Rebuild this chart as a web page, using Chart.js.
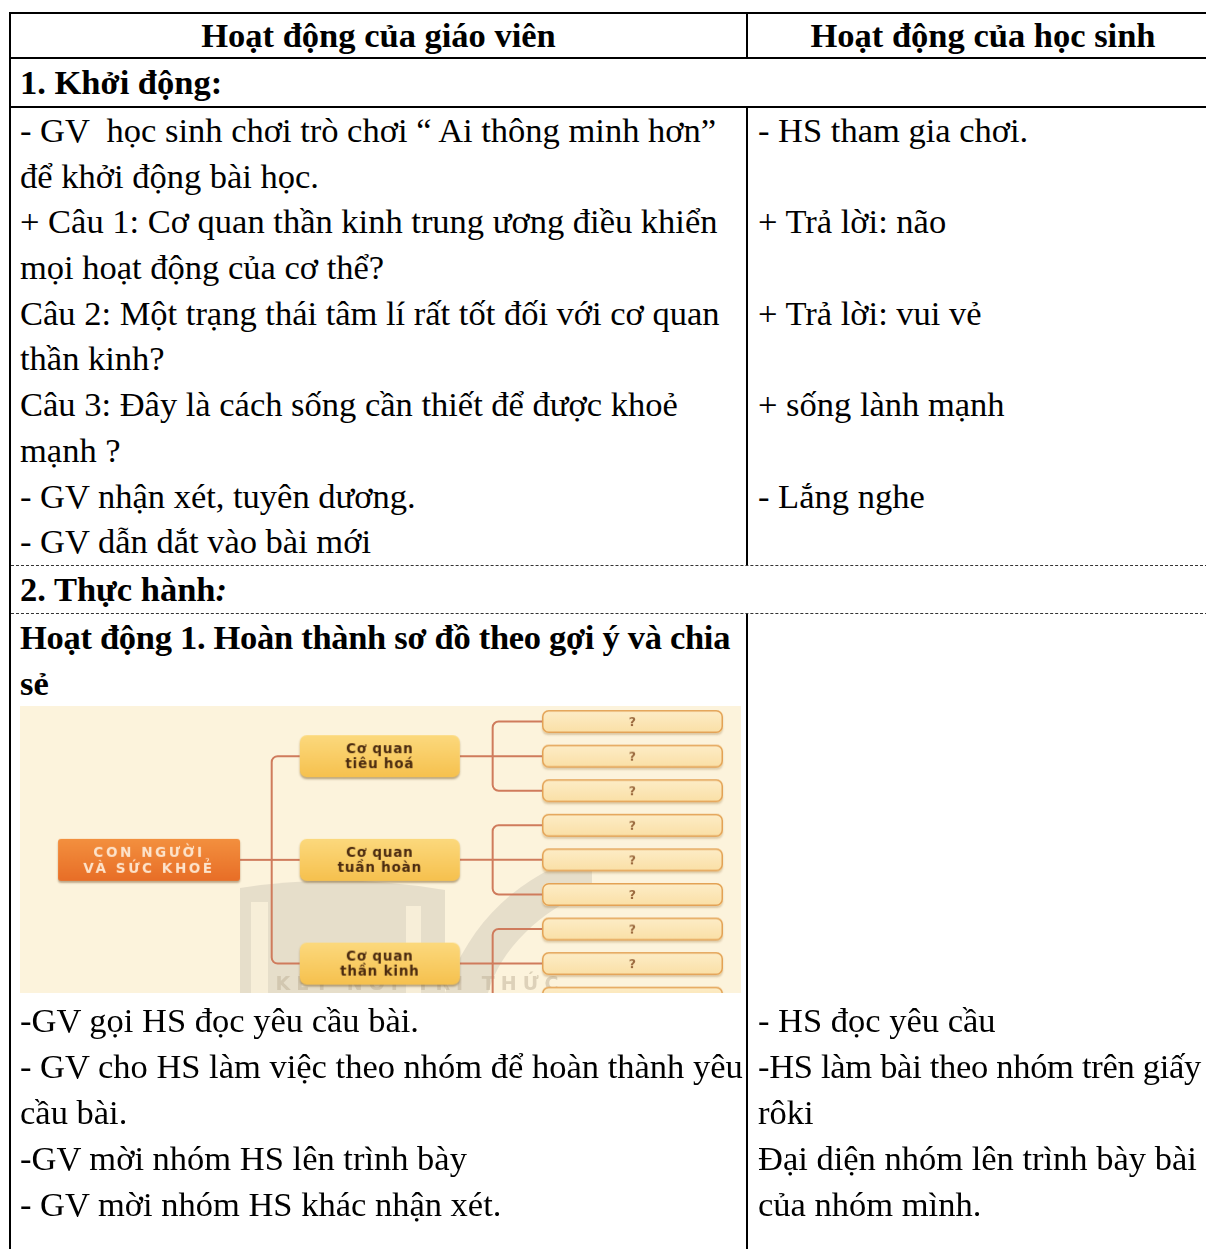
<!DOCTYPE html>
<html lang="vi">
<head>
<meta charset="utf-8">
<title>Hoạt động dạy học</title>
<script src="https://cdn.jsdelivr.net/npm/chart.js@4.4.1/dist/chart.umd.min.js"></script>
<style>
html, body { margin: 0; padding: 0; background: #fff; }
body {
    width: 1206px; height: 1249px; overflow: hidden; position: relative;
    font-family: "Liberation Serif", "Times New Roman", serif;
    font-size: 34.5px; color: #000;
}
.tbl {
    position: absolute; left: 9px; top: 12px; width: 1207px;
    border-left: 2px solid #000; border-top: 2px solid #000;
}
.row { display: flex; box-sizing: border-box; }
.c1 { box-sizing: border-box; width: 737px; border-right: 2px solid #000; padding-left: 9px; }
.c2 { box-sizing: border-box; flex: 1; padding-left: 10px; }
.full { box-sizing: border-box; width: 100%; padding-left: 9px; }
.ln { white-space: pre; }
.b { font-weight: bold; }
.tight { letter-spacing: -0.3px; }

.head { height: 45px; border-bottom: 2px solid #000; font-weight: bold; line-height: 43px; }
.head .c1, .head .c2 { text-align: center; padding-left: 0; }
.sec1 { height: 49px; border-bottom: 2px solid #000; line-height: 47px; font-weight: bold; }
.body1 { height: 458px; border-bottom: 1px dashed #333; line-height: 45.7px; }
.body1 .ln { height: 45.7px; }
.sec2 { height: 48px; border-bottom: 1px dashed #333; line-height: 47px; font-weight: bold; }
.body2 { height: 700px; line-height: 46px; }
.body2 .ln { height: 46px; }
#sodo { display: block; margin-bottom: 4px; }
.spacer { height: 383px; }
</style>
</head>
<body>
<div class="tbl">
    <div class="row head">
        <div class="c1">Hoạt động của giáo viên</div>
        <div class="c2">Hoạt động của học sinh</div>
    </div>
    <div class="row sec1">
        <div class="full">1. Khởi động:</div>
    </div>
    <div class="row body1">
        <div class="c1">
            <div class="ln">- GV  học sinh chơi trò chơi “ Ai thông minh hơn”</div>
            <div class="ln">để khởi động bài học.</div>
            <div class="ln">+ Câu 1: Cơ quan thần kinh trung ương điều khiển</div>
            <div class="ln">mọi hoạt động của cơ thể?</div>
            <div class="ln">Câu 2: Một trạng thái tâm lí rất tốt đối với cơ quan</div>
            <div class="ln">thần kinh?</div>
            <div class="ln">Câu 3: Đây là cách sống cần thiết để được khoẻ</div>
            <div class="ln">mạnh ?</div>
            <div class="ln">- GV nhận xét, tuyên dương.</div>
            <div class="ln">- GV dẫn dắt vào bài mới</div>
        </div>
        <div class="c2">
            <div class="ln">- HS tham gia chơi.</div>
            <div class="ln"></div>
            <div class="ln">+ Trả lời: não</div>
            <div class="ln"></div>
            <div class="ln">+ Trả lời: vui vẻ</div>
            <div class="ln"></div>
            <div class="ln">+ sống lành mạnh</div>
            <div class="ln"></div>
            <div class="ln">- Lắng nghe</div>
            <div class="ln"></div>
        </div>
    </div>
    <div class="row sec2">
        <div class="full">2. Thực hành<i>:</i></div>
    </div>
    <div class="row body2">
        <div class="c1">
            <div class="ln b tight">Hoạt động 1. Hoàn thành sơ đồ theo gợi ý và chia</div>
            <div class="ln b">sẻ</div>
            <canvas id="sodo" width="721" height="287"></canvas>
            <div class="ln">-GV gọi HS đọc yêu cầu bài.</div>
            <div class="ln">- GV cho HS làm việc theo nhóm để hoàn thành yêu</div>
            <div class="ln">cầu bài.</div>
            <div class="ln">-GV mời nhóm HS lên trình bày</div>
            <div class="ln">- GV mời nhóm HS khác nhận xét.</div>
        </div>
        <div class="c2">
            <div class="spacer"></div>
            <div class="ln">- HS đọc yêu cầu</div>
            <div class="ln tight">-HS làm bài theo nhóm trên giấy</div>
            <div class="ln">rôki</div>
            <div class="ln">Đại diện nhóm lên trình bày bài</div>
            <div class="ln">của nhóm mình.</div>
        </div>
    </div>
</div>

<script>
// Sơ đồ: gốc -> cơ quan -> ô trống
const rootLabel = ['CON NGƯỜI', 'VÀ SỨC KHOẺ'];
const organLabels = [['Cơ quan', 'tiêu hoá'], ['Cơ quan', 'tuần hoàn'], ['Cơ quan', 'thần kinh']];
const leafCounts = [3, 3, 3];
const leafLabels = ['?', '?', '?', '?', '?', '?', '?', '?', '?'];

// layout & styles
const COL = [0.179, 0.499, 0.8495];
const BOX = {
    root:  { w: 182, h: 42, r: 3, top: '#f3903f', bottom: '#e86e27', shadow: 'rgba(110,70,30,0.45)',
             color: '#fde4cc', font: 'bold 13.5px "DejaVu Sans"', lh: 16, spacing: '2.6px' },
    organ: { w: 160, h: 42, r: 7, top: '#fcd97d', bottom: '#f6c14e', shadow: 'rgba(120,90,40,0.5)',
             color: '#4a2a10', font: 'bold 13.5px "DejaVu Sans"', lh: 15, spacing: '0.8px' },
    leaf:  { w: 181, h: 23, r: 6, top: '#fdedc8', bottom: '#fadfa5', shadow: 'rgba(150,110,50,0.3)',
             border: '#e3a255', borderWidth: 1.5,
             color: '#9c6b40', font: 'bold 12.5px "DejaVu Sans"', lh: 12, spacing: '0px' }
};
const LINK = { color: '#cf7b5c', width: 2, radius: 6, trunk: 0.53, branch: 0.4 };

function boxPath(g, x, y, w, h, r) {
    g.beginPath();
    g.moveTo(x + r, y);
    g.arcTo(x + w, y, x + w, y + h, r);
    g.arcTo(x + w, y + h, x, y + h, r);
    g.arcTo(x, y + h, x, y, r);
    g.arcTo(x, y, x + w, y, r);
    g.closePath();
}

function makeNode(st, lines) {
    const pad = 5;
    const c = document.createElement('canvas');
    c.width = st.w + pad * 2;
    c.height = st.h + pad * 2;
    const g = c.getContext('2d');
    g.save();
    g.shadowColor = st.shadow;
    g.shadowOffsetY = 2;
    g.shadowBlur = 2;
    boxPath(g, pad, pad, st.w, st.h, st.r);
    const grad = g.createLinearGradient(0, pad, 0, pad + st.h);
    grad.addColorStop(0, st.top);
    grad.addColorStop(1, st.bottom);
    g.fillStyle = grad;
    g.fill();
    g.restore();
    if (st.border) {
        g.lineWidth = st.borderWidth;
        g.strokeStyle = st.border;
        boxPath(g, pad + 0.75, pad + 0.75, st.w - 1.5, st.h - 1.5, st.r);
        g.stroke();
    }
    g.fillStyle = st.color;
    g.font = st.font;
    g.textAlign = 'center';
    g.textBaseline = 'middle';
    if ('letterSpacing' in g) g.letterSpacing = st.spacing;
    const y0 = pad + st.h / 2 - (lines.length - 1) * st.lh / 2;
    lines.forEach((t, i) => g.fillText(t, pad + st.w / 2, y0 + i * st.lh + 1));
    return c;
}

// points from the tree
let first = 0;
const organY = leafCounts.map(n => {
    const y = first + (n - 1) / 2;
    first += n;
    return y;
});
const rootY = organY.reduce((a, b) => a + b, 0) / organY.length;

const rootPts = [{ x: COL[0], y: rootY }];
const organPts = organY.map(y => ({ x: COL[1], y: y }));
const leafPts = leafLabels.map((_, i) => ({ x: COL[2], y: i }));

function elbows(ctx, px, py, kids, frac) {
    const mx = px + (kids[0].x - px) * frac;
    ctx.beginPath();
    ctx.moveTo(px, py);
    ctx.lineTo(mx, py);
    ctx.stroke();
    kids.forEach(k => {
        ctx.beginPath();
        ctx.moveTo(mx, py);
        if (Math.abs(k.y - py) > 1) ctx.arcTo(mx, k.y, k.x, k.y, LINK.radius);
        ctx.lineTo(k.x, k.y);
        ctx.stroke();
    });
}

const backdropPlugin = {
    id: 'backdrop',
    beforeDraw(chart) {
        const { ctx, width, height } = chart;
        ctx.save();
        ctx.fillStyle = '#fcf3dc';
        ctx.fillRect(0, 0, width, height);

        // logo mờ phía sau
        ctx.fillStyle = 'rgba(140,135,125,0.19)';
        ctx.beginPath();
        ctx.moveTo(220, 182);
        ctx.quadraticCurveTo(320, 166, 425, 184);
        ctx.lineTo(425, height);
        ctx.lineTo(220, height);
        ctx.closePath();
        ctx.fill();
        ctx.beginPath();
        ctx.moveTo(425, height);
        ctx.bezierCurveTo(450, 214, 500, 169, 572, 146);
        ctx.lineTo(572, 184);
        ctx.bezierCurveTo(520, 204, 480, 244, 468, height);
        ctx.closePath();
        ctx.fill();
        ctx.fillStyle = 'rgba(252,243,220,0.75)';
        ctx.fillRect(231, 196, 17, height - 196);
        ctx.fillRect(386, 200, 15, height - 200);

        ctx.fillStyle = 'rgba(190,175,150,0.5)';
        ctx.font = 'bold 19px "DejaVu Sans"';
        ctx.textAlign = 'center';
        ctx.textBaseline = 'alphabetic';
        if ('letterSpacing' in ctx) ctx.letterSpacing = '6px';
        ctx.fillText('KẾT NỐI TRI THỨC', 400, height - 3);
        ctx.restore();
    }
};

const connectorPlugin = {
    id: 'connectors',
    beforeDatasetsDraw(chart) {
        const ctx = chart.ctx;
        const root = chart.getDatasetMeta(0).data[0];
        const organs = chart.getDatasetMeta(1).data;
        const leaves = chart.getDatasetMeta(2).data;
        ctx.save();
        ctx.strokeStyle = LINK.color;
        ctx.lineWidth = LINK.width;
        elbows(ctx, root.x + BOX.root.w / 2, root.y,
            organs.map(o => ({ x: o.x - BOX.organ.w / 2, y: o.y })), LINK.trunk);
        let k = 0;
        organs.forEach((o, i) => {
            const kids = leaves.slice(k, k + leafCounts[i]);
            k += leafCounts[i];
            elbows(ctx, o.x + BOX.organ.w / 2, o.y,
                kids.map(l => ({ x: l.x - BOX.leaf.w / 2, y: l.y })), LINK.branch);
        });
        ctx.restore();
    }
};

const ctxSodo = document.getElementById('sodo').getContext('2d');
new Chart(ctxSodo, {
    type: 'scatter',
    data: {
        datasets: [
            { label: 'root', data: rootPts, pointStyle: [makeNode(BOX.root, rootLabel)], clip: false },
            { label: 'organs', data: organPts, pointStyle: organLabels.map(l => makeNode(BOX.organ, l)), clip: false },
            { label: 'leaves', data: leafPts, pointStyle: leafLabels.map(l => makeNode(BOX.leaf, [l])), clip: false }
        ]
    },
    options: {
        responsive: false,
        animation: false,
        events: [],
        layout: { padding: 0, autoPadding: false },
        elements: { point: { radius: 16, borderWidth: 0 } },
        scales: {
            x: { type: 'linear', display: false, min: 0, max: 1 },
            y: { type: 'linear', display: false, reverse: true, min: -0.45, max: 7.85 }
        },
        plugins: {
            legend: { display: false },
            tooltip: { enabled: false }
        }
    },
    plugins: [backdropPlugin, connectorPlugin]
});
</script>
</body>
</html>
